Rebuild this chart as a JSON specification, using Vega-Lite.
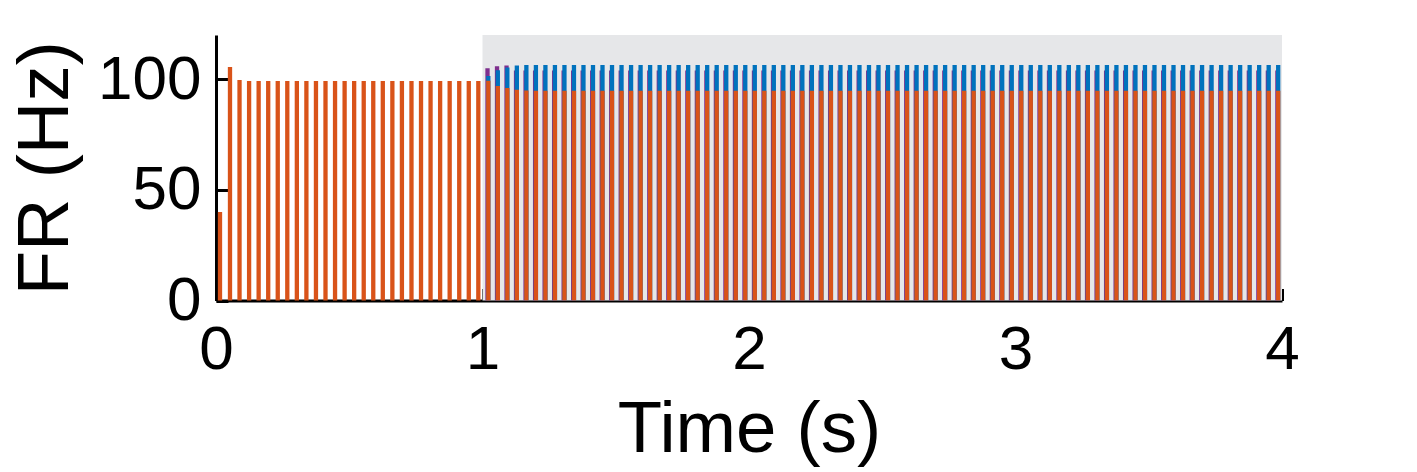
{
  "$schema": "https://vega.github.io/schema/vega-lite/v6.json",
  "width": 1066,
  "height": 265.5,
  "autosize": "none",
  "padding": {"left": 216, "top": 35, "right": 135, "bottom": 171},
  "config": {
    "view": {"stroke": null},
    "font": "Liberation Sans",
    "axis": {
      "grid": false,
      "labelFont": "Liberation Sans",
      "titleFont": "Liberation Sans",
      "labelFontSize": 62,
      "titleFontSize": 72.6,
      "titleFontWeight": "normal",
      "labelColor": "black",
      "titleColor": "black",
      "domainColor": "black",
      "domainWidth": 3,
      "tickColor": "black",
      "tickWidth": 3,
      "tickSize": -12,
      "labelFlush": false,
      "labelOverlap": false
    },
    "axisX": {"labelPadding": 31, "titlePadding": 14},
    "axisY": {"labelPadding": 27, "titlePadding": 15}
  },
  "data": {
    "values": [
      {"t": 0.015, "o": 40},
      {"t": 0.0525, "o": 105.5},
      {"t": 0.0883, "o": 99.7},
      {"t": 0.1242, "o": 99.2},
      {"t": 0.16, "o": 99.2},
      {"t": 0.1959, "o": 99.2},
      {"t": 0.2317, "o": 99.2},
      {"t": 0.2675, "o": 99.2},
      {"t": 0.3034, "o": 99.2},
      {"t": 0.3392, "o": 99.2},
      {"t": 0.3751, "o": 99.2},
      {"t": 0.4109, "o": 99.2},
      {"t": 0.4467, "o": 99.2},
      {"t": 0.4826, "o": 99.2},
      {"t": 0.5184, "o": 99.2},
      {"t": 0.5543, "o": 99.2},
      {"t": 0.5901, "o": 99.2},
      {"t": 0.6259, "o": 99.2},
      {"t": 0.6618, "o": 99.2},
      {"t": 0.6976, "o": 99.2},
      {"t": 0.7335, "o": 99.2},
      {"t": 0.7693, "o": 99.2},
      {"t": 0.8051, "o": 99.2},
      {"t": 0.841, "o": 99.2},
      {"t": 0.8768, "o": 99.2},
      {"t": 0.9127, "o": 99.2},
      {"t": 0.9485, "o": 99.2},
      {"t": 0.9843, "o": 99.2},
      {"t": 1.0218, "o": 99.3, "b": 101.5, "v": 105},
      {"t": 1.0575, "o": 97, "b": 104.1, "v": 105.9},
      {"t": 1.0932, "o": 96, "b": 105.3, "v": 106.2},
      {"t": 1.1289, "o": 95.2, "b": 106.2, "v": 104},
      {"t": 1.1646, "o": 94.9, "b": 106.4, "v": 104},
      {"t": 1.2004, "o": 94.8, "b": 106.4, "v": 104},
      {"t": 1.2361, "o": 94.8, "b": 106.4, "v": 104},
      {"t": 1.2718, "o": 94.8, "b": 106.4, "v": 104},
      {"t": 1.3075, "o": 94.8, "b": 106.4, "v": 104},
      {"t": 1.3432, "o": 94.8, "b": 106.4, "v": 104},
      {"t": 1.3789, "o": 94.8, "b": 106.4, "v": 104},
      {"t": 1.4146, "o": 94.8, "b": 106.4, "v": 104},
      {"t": 1.4503, "o": 94.8, "b": 106.4, "v": 104},
      {"t": 1.486, "o": 94.8, "b": 106.4, "v": 104},
      {"t": 1.5217, "o": 94.8, "b": 106.4, "v": 104},
      {"t": 1.5575, "o": 94.8, "b": 106.4, "v": 104},
      {"t": 1.5932, "o": 94.8, "b": 106.4, "v": 104},
      {"t": 1.6289, "o": 94.8, "b": 106.4, "v": 104},
      {"t": 1.6646, "o": 94.8, "b": 106.4, "v": 104},
      {"t": 1.7003, "o": 94.8, "b": 106.4, "v": 104},
      {"t": 1.736, "o": 94.8, "b": 106.4, "v": 104},
      {"t": 1.7717, "o": 94.8, "b": 106.4, "v": 104},
      {"t": 1.8074, "o": 94.8, "b": 106.4, "v": 104},
      {"t": 1.8431, "o": 94.8, "b": 106.4, "v": 104},
      {"t": 1.8788, "o": 94.8, "b": 106.4, "v": 104},
      {"t": 1.9146, "o": 94.8, "b": 106.4, "v": 104},
      {"t": 1.9503, "o": 94.8, "b": 106.4, "v": 104},
      {"t": 1.986, "o": 94.8, "b": 106.4, "v": 104},
      {"t": 2.0217, "o": 94.8, "b": 106.4, "v": 104},
      {"t": 2.0574, "o": 94.8, "b": 106.4, "v": 104},
      {"t": 2.0931, "o": 94.8, "b": 106.4, "v": 104},
      {"t": 2.1288, "o": 94.8, "b": 106.4, "v": 104},
      {"t": 2.1645, "o": 94.8, "b": 106.4, "v": 104},
      {"t": 2.2002, "o": 94.8, "b": 106.4, "v": 104},
      {"t": 2.2359, "o": 94.8, "b": 106.4, "v": 104},
      {"t": 2.2717, "o": 94.8, "b": 106.4, "v": 104},
      {"t": 2.3074, "o": 94.8, "b": 106.4, "v": 104},
      {"t": 2.3431, "o": 94.8, "b": 106.4, "v": 104},
      {"t": 2.3788, "o": 94.8, "b": 106.4, "v": 104},
      {"t": 2.4145, "o": 94.8, "b": 106.4, "v": 104},
      {"t": 2.4502, "o": 94.8, "b": 106.4, "v": 104},
      {"t": 2.4859, "o": 94.8, "b": 106.4, "v": 104},
      {"t": 2.5216, "o": 94.8, "b": 106.4, "v": 104},
      {"t": 2.5573, "o": 94.8, "b": 106.4, "v": 104},
      {"t": 2.593, "o": 94.8, "b": 106.4, "v": 104},
      {"t": 2.6288, "o": 94.8, "b": 106.4, "v": 104},
      {"t": 2.6645, "o": 94.8, "b": 106.4, "v": 104},
      {"t": 2.7002, "o": 94.8, "b": 106.4, "v": 104},
      {"t": 2.7359, "o": 94.8, "b": 106.4, "v": 104},
      {"t": 2.7716, "o": 94.8, "b": 106.4, "v": 104},
      {"t": 2.8073, "o": 94.8, "b": 106.4, "v": 104},
      {"t": 2.843, "o": 94.8, "b": 106.4, "v": 104},
      {"t": 2.8787, "o": 94.8, "b": 106.4, "v": 104},
      {"t": 2.9144, "o": 94.8, "b": 106.4, "v": 104},
      {"t": 2.9501, "o": 94.8, "b": 106.4, "v": 104},
      {"t": 2.9859, "o": 94.8, "b": 106.4, "v": 104},
      {"t": 3.0216, "o": 94.8, "b": 106.4, "v": 104},
      {"t": 3.0573, "o": 94.8, "b": 106.4, "v": 104},
      {"t": 3.093, "o": 94.8, "b": 106.4, "v": 104},
      {"t": 3.1287, "o": 94.8, "b": 106.4, "v": 104},
      {"t": 3.1644, "o": 94.8, "b": 106.4, "v": 104},
      {"t": 3.2001, "o": 94.8, "b": 106.4, "v": 104},
      {"t": 3.2358, "o": 94.8, "b": 106.4, "v": 104},
      {"t": 3.2715, "o": 94.8, "b": 106.4, "v": 104},
      {"t": 3.3072, "o": 94.8, "b": 106.4, "v": 104},
      {"t": 3.343, "o": 94.8, "b": 106.4, "v": 104},
      {"t": 3.3787, "o": 94.8, "b": 106.4, "v": 104},
      {"t": 3.4144, "o": 94.8, "b": 106.4, "v": 104},
      {"t": 3.4501, "o": 94.8, "b": 106.4, "v": 104},
      {"t": 3.4858, "o": 94.8, "b": 106.4, "v": 104},
      {"t": 3.5215, "o": 94.8, "b": 106.4, "v": 104},
      {"t": 3.5572, "o": 94.8, "b": 106.4, "v": 104},
      {"t": 3.5929, "o": 94.8, "b": 106.4, "v": 104},
      {"t": 3.6286, "o": 94.8, "b": 106.4, "v": 104},
      {"t": 3.6643, "o": 94.8, "b": 106.4, "v": 104},
      {"t": 3.7001, "o": 94.8, "b": 106.4, "v": 104},
      {"t": 3.7358, "o": 94.8, "b": 106.4, "v": 104},
      {"t": 3.7715, "o": 94.8, "b": 106.4, "v": 104},
      {"t": 3.8072, "o": 94.8, "b": 106.4, "v": 104},
      {"t": 3.8429, "o": 94.8, "b": 106.4, "v": 104},
      {"t": 3.8786, "o": 94.8, "b": 106.4, "v": 104},
      {"t": 3.9143, "o": 94.8, "b": 106.4, "v": 104},
      {"t": 3.95, "o": 94.8, "b": 106.4, "v": 104},
      {"t": 3.9857, "o": 94.8, "b": 106.4, "v": 104}
    ]
  },
  "layer": [
    {
      "data": {"values": [{"x0": 1, "x1": 4, "y0": 0, "y1": 120}]},
      "mark": {"type": "rect", "color": "#E6E7E9"},
      "encoding": {
        "x": {"field": "x0", "type": "quantitative", "title": "Time (s)", "scale": {"domain": [0, 4]}, "axis": {"values": [0, 1, 2, 3, 4], "format": "d"}},
        "x2": {"field": "x1"},
        "y": {"field": "y0", "type": "quantitative", "title": "FR (Hz)", "scale": {"domain": [0, 120]}, "axis": {"values": [0, 50, 100], "format": "d"}},
        "y2": {"field": "y1"}
      }
    },
    {
      "transform": [{"filter": "isValid(datum.v)"}],
      "mark": {"type": "rule", "color": "#7E2F8E", "strokeWidth": 4.3, "strokeCap": "butt", "xOffset": -0.8},
      "encoding": {
        "x": {"field": "t", "type": "quantitative", "title": "Time (s)", "scale": {"domain": [0, 4]}},
        "y": {"field": "v", "type": "quantitative", "title": "FR (Hz)", "scale": {"domain": [0, 120]}},
        "y2": {"datum": 0}
      }
    },
    {
      "transform": [{"filter": "isValid(datum.b)"}],
      "mark": {"type": "rule", "color": "#0072BD", "strokeWidth": 4.3, "strokeCap": "butt"},
      "encoding": {
        "x": {"field": "t", "type": "quantitative", "title": "Time (s)", "scale": {"domain": [0, 4]}},
        "y": {"field": "b", "type": "quantitative", "title": "FR (Hz)", "scale": {"domain": [0, 120]}},
        "y2": {"datum": 0}
      }
    },
    {
      "mark": {"type": "rule", "color": "#D95319", "strokeWidth": 4.3, "strokeCap": "butt"},
      "encoding": {
        "x": {"field": "t", "type": "quantitative", "title": "Time (s)", "scale": {"domain": [0, 4]}},
        "y": {"field": "o", "type": "quantitative", "title": "FR (Hz)", "scale": {"domain": [0, 120]}},
        "y2": {"datum": 0}
      }
    }
  ]
}
